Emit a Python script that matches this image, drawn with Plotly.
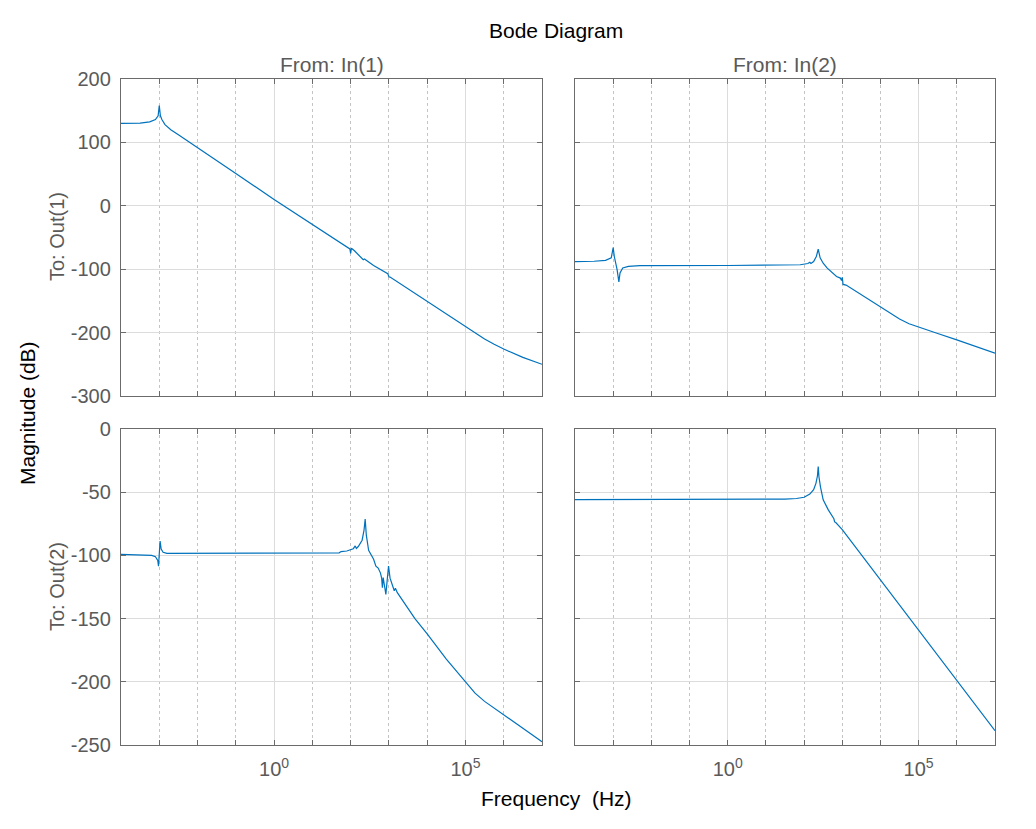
import plotly.graph_objects as go

# Bode magnitude readings: frequency (Hz) and magnitude (dB) for each I/O pair

# From In(1) to Out(1)
f11 = [1e-4, 3.16e-4, 5.62e-4, 7.94e-4, 9.33e-4, 1.0e-3, 1.07e-3, 1.17e-3, 1.41e-3, 2.0e-3,
       3.16e-3, 1e-2, 1e-1, 1.0, 10.0, 79.4, 95.5, 100.0, 104.7, 125.9, 199.5, 213.8, 229.1,
       398.1, 933.3, 1000.0, 1071.5, 1e4, 1e5, 1.78e5, 3.16e5, 5.62e5, 1e6, 3.16e6, 1e7]
m11 = [130, 130.5, 132.5, 136, 142, 158, 142, 136, 128, 120,
       112, 92, 51, 10, -29, -65, -68, -75, -67, -71, -82, -85, -84,
       -94, -107, -112, -112.5, -151, -190, -200.5, -210, -218.5, -226, -239, -250]

# From In(2) to Out(1)
f12 = [1e-4, 3.16e-4, 6.31e-4, 8.91e-4, 1.0e-3, 1.07e-3, 1.26e-3, 1.41e-3, 1.51e-3, 1.78e-3,
       2.51e-3, 5.01e-3, 1.0, 31.6, 79.4, 125.9, 141.3, 151.4, 177.8, 208.9, 234.4, 263.0,
       316.2, 398.1, 501.2, 707.9, 891.3, 955.0, 1000.0, 1047.1, 1258.9, 3162.3, 1e4,
       1.78e4, 3.16e4, 5.62e4, 1e5, 1.78e5, 3.16e5, 1e6, 3.16e6, 1e7]
m12 = [-88, -87.5, -86, -82, -66, -80, -100, -120, -106, -98,
       -95.5, -94.5, -94.2, -94, -93, -91, -89, -91, -88, -80, -68.5, -82,
       -90.5, -98, -103, -111.6, -114, -118, -113, -124, -125, -140, -159,
       -169.5, -178.5, -186, -191.5, -196.5, -201.5, -211.5, -222, -232.5]

# From In(1) to Out(2)
f21 = [1e-4, 3.16e-4, 6.31e-4, 7.94e-4, 9.12e-4, 9.55e-4, 1.0e-3, 1.05e-3, 1.12e-3, 1.26e-3,
       1.58e-3, 1.0, 50.1, 56.2, 79.4, 117.5, 131.8, 141.3, 158.5, 199.5, 223.9, 239.9,
       257.0, 295.1, 354.8, 398.1, 457.1, 524.8, 602.6, 645.7, 676.1, 707.9, 776.2, 831.8,
       912.0, 977.2, 1071.5, 1202.3, 1380.4, 1479.1, 1659.6, 4786.3, 1e4, 3.16e4,
       1e5, 1.78e5, 3.16e5, 1e6, 3.16e6, 1e7]
m21 = [-99.2, -99.4, -100, -101, -104, -108.5, -97, -88.7, -95, -97.5,
       -98.4, -98.3, -98.0, -97, -96.5, -94.7, -92.5, -94.5, -93, -88, -80, -71.3,
       -84, -96, -100, -103, -108.5, -110, -114, -118, -125.5, -117.6, -125, -130.8,
       -118, -108.5, -118, -123, -128, -126, -129.5, -150, -162, -182,
       -200.5, -209, -215.5, -226, -236.5, -247.4]

# From In(2) to Out(2)
f22 = [1e-4, 1.0, 31.6, 63.1, 100.0, 141.3, 177.8, 204.2, 223.9, 234.4, 245.5, 269.2,
       316.2, 426.6, 602.6, 631.0, 676.1, 1000.0, 1e4, 1e5, 1e6, 1e7]
m22 = [-55.8, -55.7, -55.5, -55, -54, -51.5, -48, -43, -37, -29.7, -38, -46,
       -56, -63.8, -71, -73.5, -74, -79.6, -119.5, -159.8, -199.3, -238.7]

# axis ticks
decades = [1e-4, 1e-3, 1e-2, 1e-1, 1e0, 1e1, 1e2, 1e3, 1e4, 1e5, 1e6, 1e7]
x_major = [1e0, 1e5]
x_labels = ['10<sup>0</sup>', '10<sup>5</sup>']
y_top_ticks = [200, 100, 0, -100, -200, -300]
y_top_labels = ['200', '100', '0', '-100', '-200', '-300']
y_bot_ticks = [0, -50, -100, -150, -200, -250]
y_bot_labels = ['0', '-50', '-100', '-150', '-200', '-250']

W, H = 1036, 829
OFF = 8  # page body margin around the figure
FONT = 'Liberation Sans, Arial, sans-serif'
GRAY = '#5a5a5a'
FRAME = '#6b6b6b'
BLUE = '#0072BD'


def px(x):
    return (x - OFF) / W


def py(y):
    return 1 - (y - OFF) / H


fig = go.Figure()
panels = [(f11, m11, 'x', 'y'), (f12, m12, 'x2', 'y2'),
          (f21, m21, 'x3', 'y3'), (f22, m22, 'x4', 'y4')]
for f, m, xa, ya in panels:
    fig.add_trace(go.Scatter(x=f, y=m, xaxis=xa, yaxis=ya, mode='lines',
                             line=dict(color=BLUE, width=1.2), showlegend=False,
                             hoverinfo='skip'))


def xax(domain, anchor, labels):
    return dict(type='log', range=[-4, 7], domain=domain, anchor=anchor,
                tickvals=x_major, ticktext=x_labels, showticklabels=labels,
                tickfont=dict(family=FONT, size=20, color=GRAY),
                ticklabelstandoff=6,
                showgrid=True, gridcolor='#dcdcdc', gridwidth=1,
                showline=True, linecolor=FRAME, linewidth=1.3, mirror='ticks',
                ticks='inside', ticklen=5, tickcolor=FRAME, tickwidth=1,
                minor=dict(tickvals=decades, ticks='inside', ticklen=5,
                           tickcolor=FRAME, tickwidth=1, showgrid=True,
                           gridcolor='#c4c4c4', griddash='dot', gridwidth=1),
                zeroline=False, automargin=False, fixedrange=True)


def yax(domain, anchor, rng, vals, text, labels):
    return dict(range=rng, domain=domain, anchor=anchor,
                tickvals=vals, ticktext=text, showticklabels=labels,
                tickfont=dict(family=FONT, size=20, color=GRAY),
                ticklabelstandoff=5,
                showgrid=True, gridcolor='#dcdcdc', gridwidth=1,
                showline=True, linecolor=FRAME, linewidth=1.3, mirror='ticks',
                ticks='inside', ticklen=5, tickcolor=FRAME, tickwidth=1,
                zeroline=False, automargin=False, fixedrange=True)


xl = [px(121), px(542)]
xr = [px(575), px(995)]
yt = [py(396), py(79)]
yb = [py(745), py(429)]

fig.update_layout(
    template='none',
    width=W, height=H,
    margin=dict(l=0, r=0, t=0, b=0, autoexpand=False),
    paper_bgcolor='white', plot_bgcolor='white',
    xaxis=xax(xl, 'y', False),
    xaxis2=xax(xr, 'y2', False),
    xaxis3=xax(xl, 'y3', True),
    xaxis4=xax(xr, 'y4', True),
    yaxis=yax(yt, 'x', [-300, 200], y_top_ticks, y_top_labels, True),
    yaxis2=yax(yt, 'x2', [-300, 200], y_top_ticks, y_top_labels, False),
    yaxis3=yax(yb, 'x3', [-250, 0], y_bot_ticks, y_bot_labels, True),
    yaxis4=yax(yb, 'x4', [-250, 0], y_bot_ticks, y_bot_labels, False),
)


def note(text, x, y, size, color, angle=0):
    fig.add_annotation(text=text, x=px(x), y=py(y), xref='paper', yref='paper',
                       showarrow=False, textangle=angle,
                       font=dict(family=FONT, size=size, color=color),
                       xanchor='center', yanchor='middle')


note('Bode Diagram', 556, 30, 21, 'black')
note('From: In(1)', 332, 64, 21, GRAY)
note('From: In(2)', 785, 64, 21, GRAY)
note('To: Out(1)', 57, 237, 20, GRAY, -90)
note('To: Out(2)', 57, 587, 20, GRAY, -90)
note('Magnitude (dB)', 27, 413, 21, 'black', -90)
note('Frequency  (Hz)', 556, 798, 21, 'black')

fig.write_html("out.html")
